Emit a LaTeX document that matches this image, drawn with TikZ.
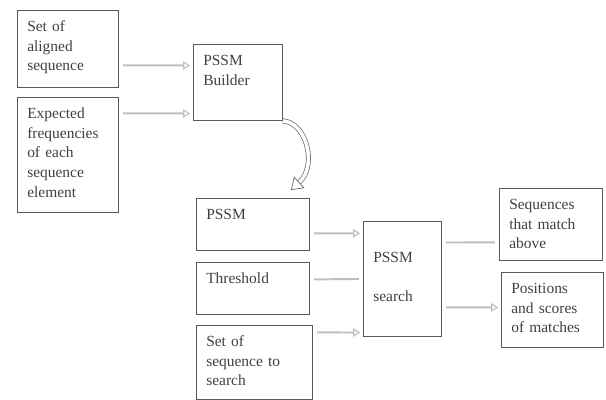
\documentclass[tikz,border=0pt]{standalone}
\usepackage{fontspec}
\setmainfont{Liberation Serif}
\usetikzlibrary{arrows.meta}
\begin{document}
\begin{tikzpicture}[
    x=0.025cm, y=-0.025cm,
    blk/.style={
        rectangle,
        draw=black!65,
        line width=0.6pt,
        anchor=north west,
        align=left,
        inner xsep=7pt,
        inner ysep=7pt,
        text height=8pt,
        text=black!75,
        font=\fontsize{11}{14}\selectfont
    },
    flow/.style={
        draw=black!25,
        line width=1.4pt,
        shorten <=3pt,
        shorten >=2pt,
        -{Triangle[open,length=5pt,width=6pt,line width=0.8pt]}
    },
    flowline/.style={
        draw=black!25,
        line width=1.4pt,
        shorten <=3pt,
        shorten >=3pt
    },
    turn/.style={
        draw=black!60,
        line width=0.5pt,
        double=white,
        double distance=2.5pt,
        -{Triangle[open,length=8pt,width=11pt]}
    }
]

\useasboundingbox (0,0) rectangle (606,400);

% Builder inputs
\node[blk, text width=2.031cm, text depth=32.8pt] (aln) at (17,10) {Set of\\aligned\\sequence};
\node[blk, text width=2.031cm, text depth=59.8pt] (frq) at (17,97) {Expected\\frequencies\\of each\\sequence\\element};

% Builder
\node[blk, text width=1.731cm, text depth=32.1pt] (bld) at (193,44) {PSSM\\Builder};

% Search inputs
\node[blk, text width=2.331cm, text depth=15pt] (psm) at (196,198) {PSSM};
\node[blk, text width=2.331cm, text depth=15pt] (thr) at (196,262) {Threshold};
\node[blk, text width=2.406cm, text depth=30.6pt] (sqs) at (196,325) {Set of\\sequence to\\search};

% Search
\node[blk, text width=1.456cm, text depth=59.8pt] (srch) at (363,221) {\mbox{}\\PSSM\\\mbox{}\\search};

% Outputs
\node[blk, text width=2.081cm, text depth=29.2pt] (mat) at (499,188) {Sequences\\that match\\above};
\node[blk, text width=2.056cm, text depth=31.3pt] (pos) at (501,272) {Positions\\and scores\\of matches};

% Connectors
\draw[flow] ([yshift=-0.41cm]aln.east) -- ([yshift=0.425cm]bld.west);
\draw[flow] ([yshift=1.04cm]frq.east) -- ([yshift=-0.775cm]bld.west);

\coordinate (tip) at (291,190);
\draw[turn] (bld.south east) .. controls (306,122) and (318,165) .. (tip);

\draw[flow] ([yshift=-0.225cm]psm.east) -- ([yshift=1.14cm]srch.west);
\draw[flowline] ([yshift=0.225cm]thr.east) -- (srch.west);
\draw[flow] ([yshift=0.75cm]sqs.east) -- ([yshift=-1.34cm]srch.west);

\draw[flowline] ([yshift=0.91cm]srch.east) -- ([yshift=-0.45cm]mat.west);
\draw[flow] ([yshift=-0.71cm]srch.east) -- ([yshift=0.06cm]pos.west);

\end{tikzpicture}
\end{document}
